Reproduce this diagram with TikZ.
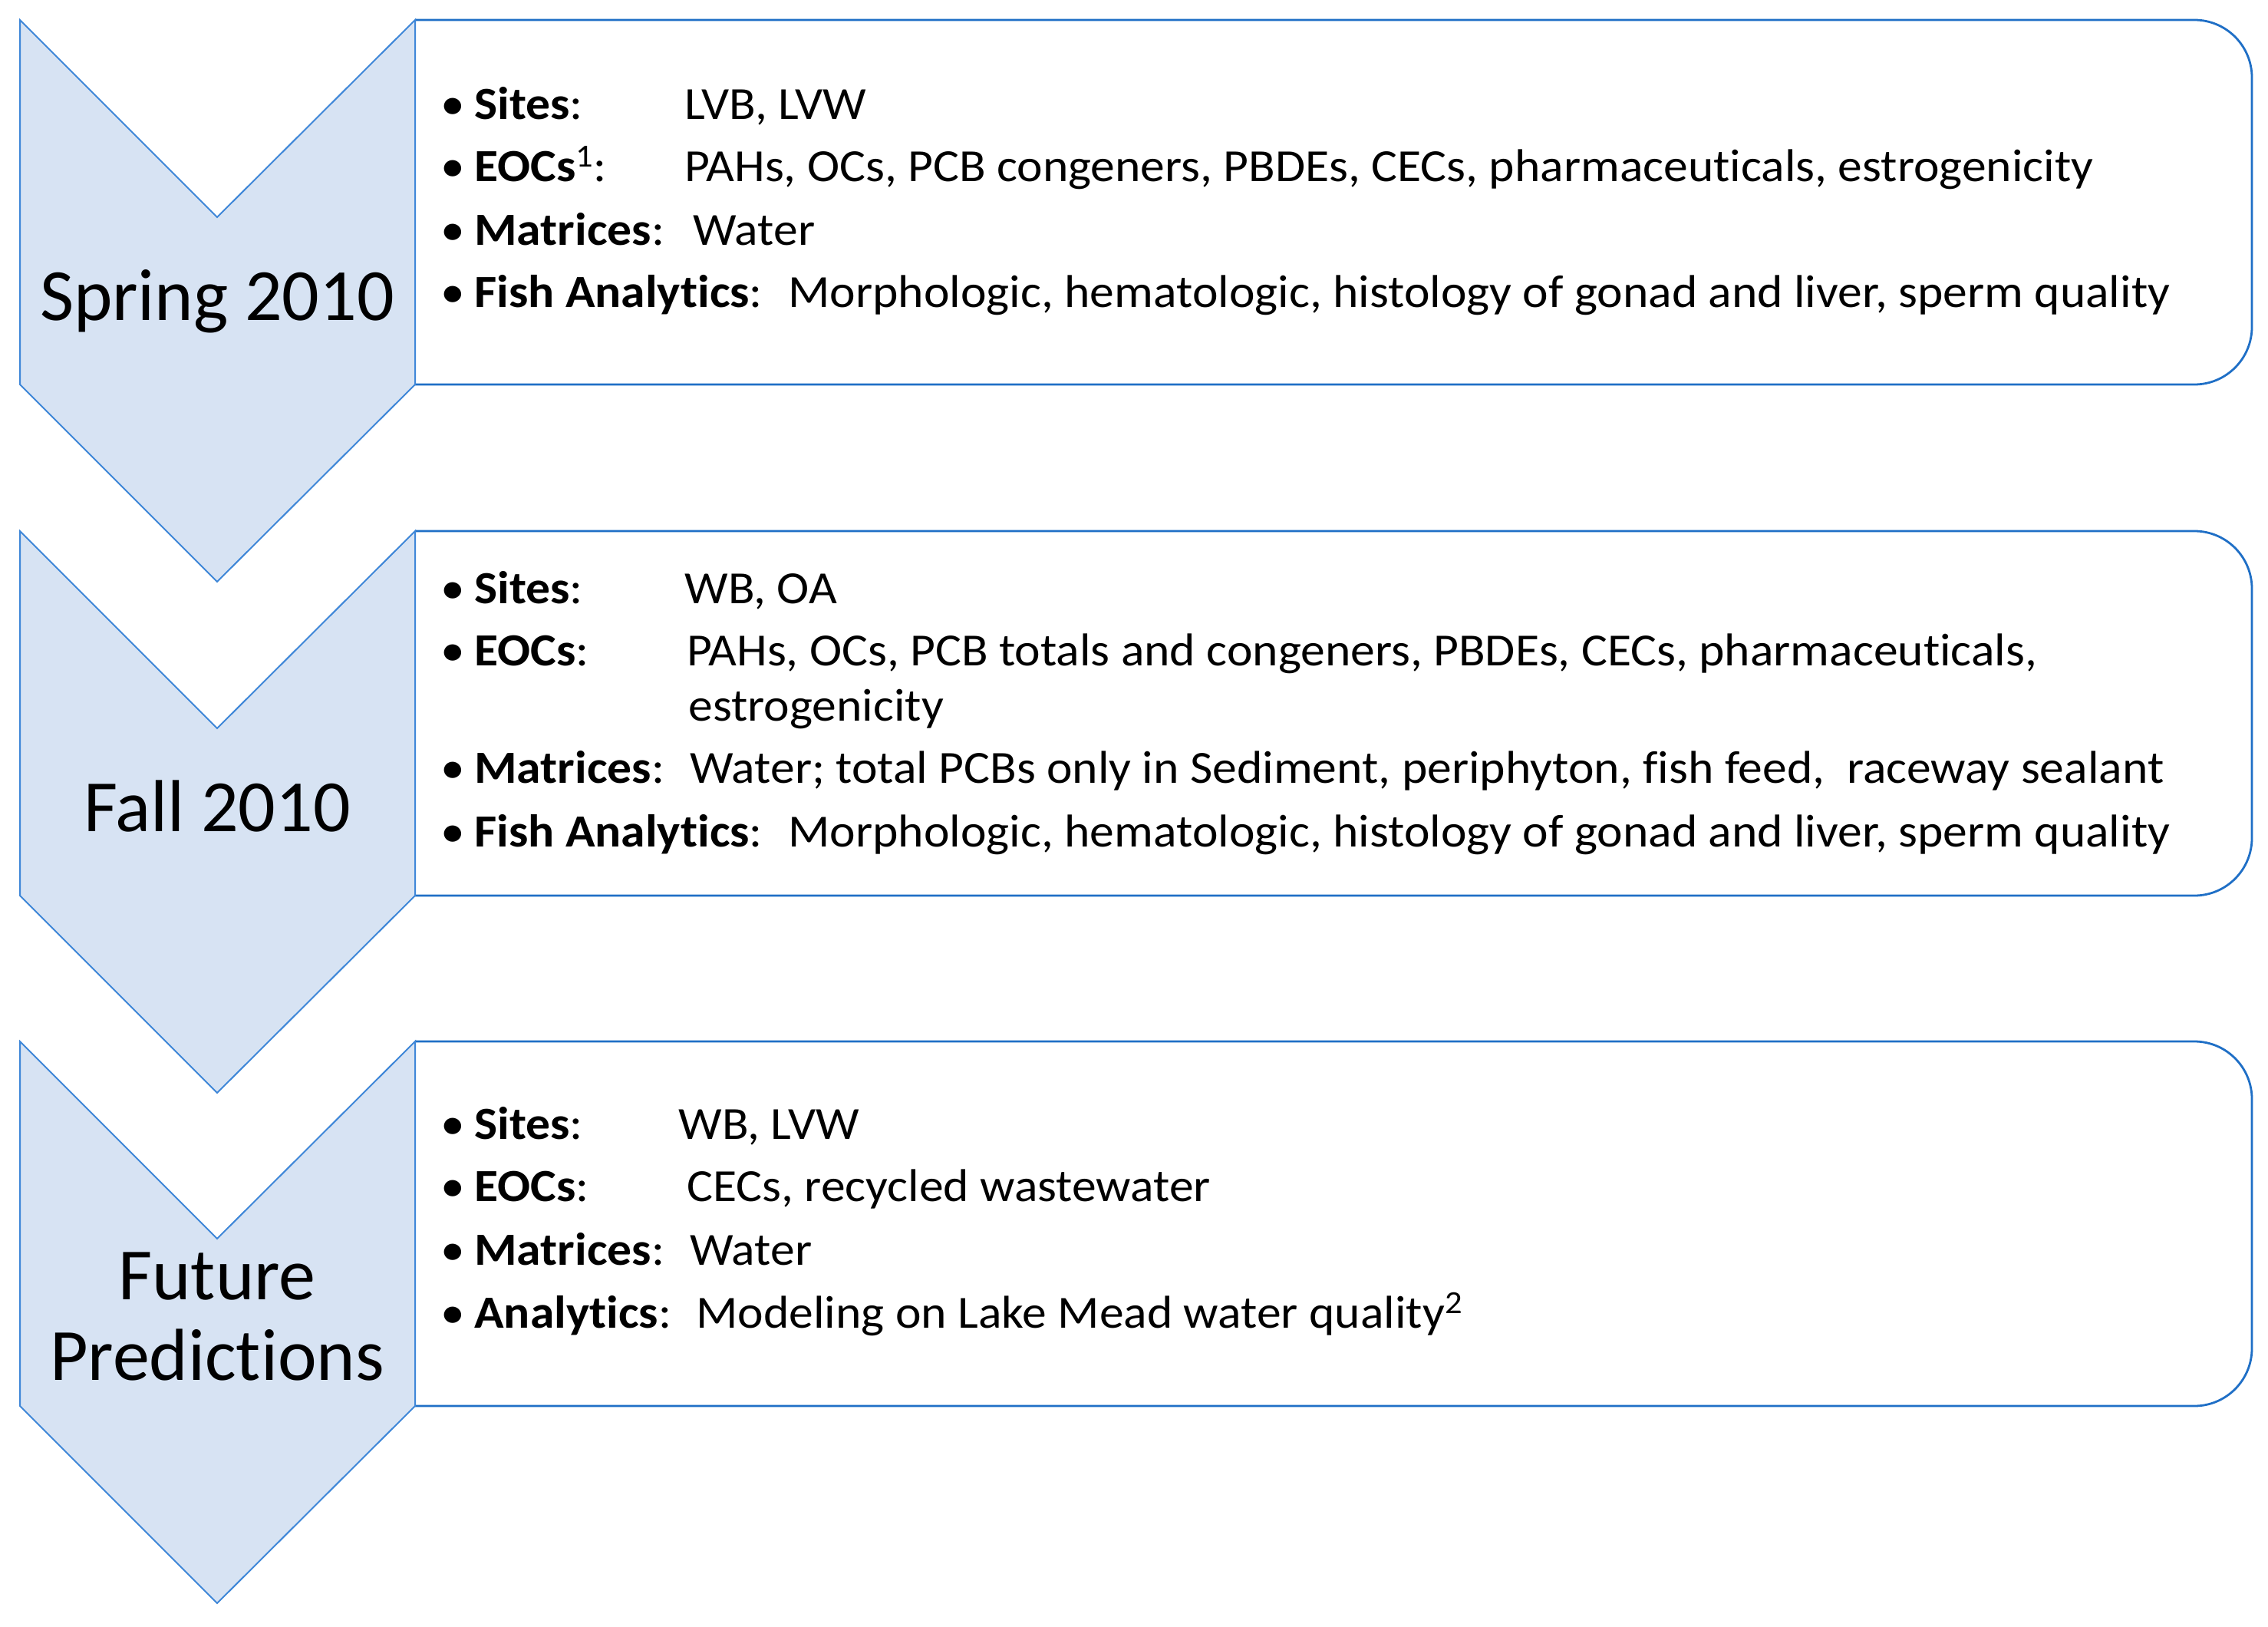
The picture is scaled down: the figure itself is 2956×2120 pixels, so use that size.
\documentclass[tikz,border=0pt]{standalone}
\usepackage{fontspec}
\setmainfont{Carlito}[Ligatures=NoCommon]
\newfontfamily\bodyfont{Carlito}[Ligatures=NoCommon,FakeStretch=1.06]
\definecolor{chevfill}{HTML}{D7E3F3}
\definecolor{chevline}{HTML}{3F87D8}
\definecolor{boxline}{HTML}{1F6FC6}
\begin{document}
\begin{tikzpicture}[x=0.5pt,y=-0.5pt,
  chev/.style={fill=chevfill,draw=chevline,line width=1pt,line join=miter},
  infobox/.style={draw=boxline,line width=1.4pt,fill=white,rounded corners=37.5pt},
  txt/.style={anchor=base west,inner sep=0pt,font=\bodyfont\fontsize{30pt}{36pt}\selectfont},
  bul/.style={anchor=base west,inner sep=0pt,font=\bodyfont\fontsize{30pt}{36pt}\selectfont},
  phase/.style={anchor=base,inner sep=0pt,font=\fontsize{48pt}{52pt}\selectfont,align=center}]
\useasboundingbox (0,0) rectangle (2956,2120);
\fill[white] (0,0) rectangle (2956,2120);
% rows: top offsets 26, 692, 1357
\foreach \t in {26,692,1357}{
  \draw[infobox] (541,\t) -- (2935,\t) -- (2935,\t+475) -- (541,\t+475);
  \draw[chev] (26,\t) -- (283,\t+257) -- (541,\t) -- (541,\t+475) -- (283,\t+732) -- (26,\t+475) -- cycle;
}
% phase labels
\node[phase] (p1) at (283,417) {Spring 2010};
\node[phase] (p2) at (283,1083) {Fall 2010};
\node[phase] (p3a) at (283,1693) {Future};
\node[phase] (p3b) at (283,1798) {Predictions};
% row 1
\node[bul] (b11) at (574,155) {\textbullet};
\node[txt] (l11) at (618,155) {\textbf{Sites}:};
\node[txt] (v11) at (892,155) {LVB, LVW};
\node[bul] (b12) at (574,236) {\textbullet};
\node[txt] (l12) at (618,236) {\textbf{EOCs}\textsuperscript{1}:};
\node[txt] (v12) at (892,236) {PAHs, OCs, PCB congeners, PBDEs, CECs, pharmaceuticals, estrogenicity};
\node[bul] (b13) at (574,319) {\textbullet};
\node[txt] (l13) at (618,319) {\textbf{Matrices}:};
\node[txt] (v13) at (903,319) {Water};
\node[bul] (b14) at (574,400) {\textbullet};
\node[txt] (l14) at (618,400) {\textbf{Fish Analytics}:};
\node[txt] (v14) at (1027,400) {Morphologic, hematologic, histology of gonad and liver, sperm quality};
% row 2
\node[bul] (b21) at (574,786) {\textbullet};
\node[txt] (l21) at (618,786) {\textbf{Sites}:};
\node[txt] (v21) at (892,786) {WB, OA};
\node[bul] (b22) at (574,867) {\textbullet};
\node[txt] (l22) at (618,867) {\textbf{EOCs}:};
\node[txt] (v22) at (895,867) {PAHs, OCs, PCB totals and congeners, PBDEs, CECs, pharmaceuticals,};
\node[txt] (v22b) at (897,939) {estrogenicity};
\node[bul] (b23) at (574,1020) {\textbullet};
\node[txt] (l23) at (618,1020) {\textbf{Matrices}:};
\node[txt] (v23) at (899,1020) {Water; total PCBs only in Sediment, periphyton, fish feed,\ \ raceway sealant};
\node[bul] (b24) at (574,1103) {\textbullet};
\node[txt] (l24) at (618,1103) {\textbf{Fish Analytics}:};
\node[txt] (v24) at (1027,1103) {Morphologic, hematologic, histology of gonad and liver, sperm quality};
% row 3
\node[bul] (b31) at (574,1484) {\textbullet};
\node[txt] (l31) at (618,1484) {\textbf{Sites}:};
\node[txt] (v31) at (884,1484) {WB, LVW};
\node[bul] (b32) at (574,1565) {\textbullet};
\node[txt] (l32) at (618,1565) {\textbf{EOCs}:};
\node[txt] (v32) at (895,1565) {CECs, recycled wastewater};
\node[bul] (b33) at (574,1648) {\textbullet};
\node[txt] (l33) at (618,1648) {\textbf{Matrices}:};
\node[txt] (v33) at (899,1648) {Water};
\node[bul] (b34) at (574,1730) {\textbullet};
\node[txt] (l34) at (618,1730) {\textbf{Analytics}:};
\node[txt] (v34) at (907,1730) {Modeling on Lake Mead water quality\textsuperscript{2}};
\end{tikzpicture}
\end{document}
